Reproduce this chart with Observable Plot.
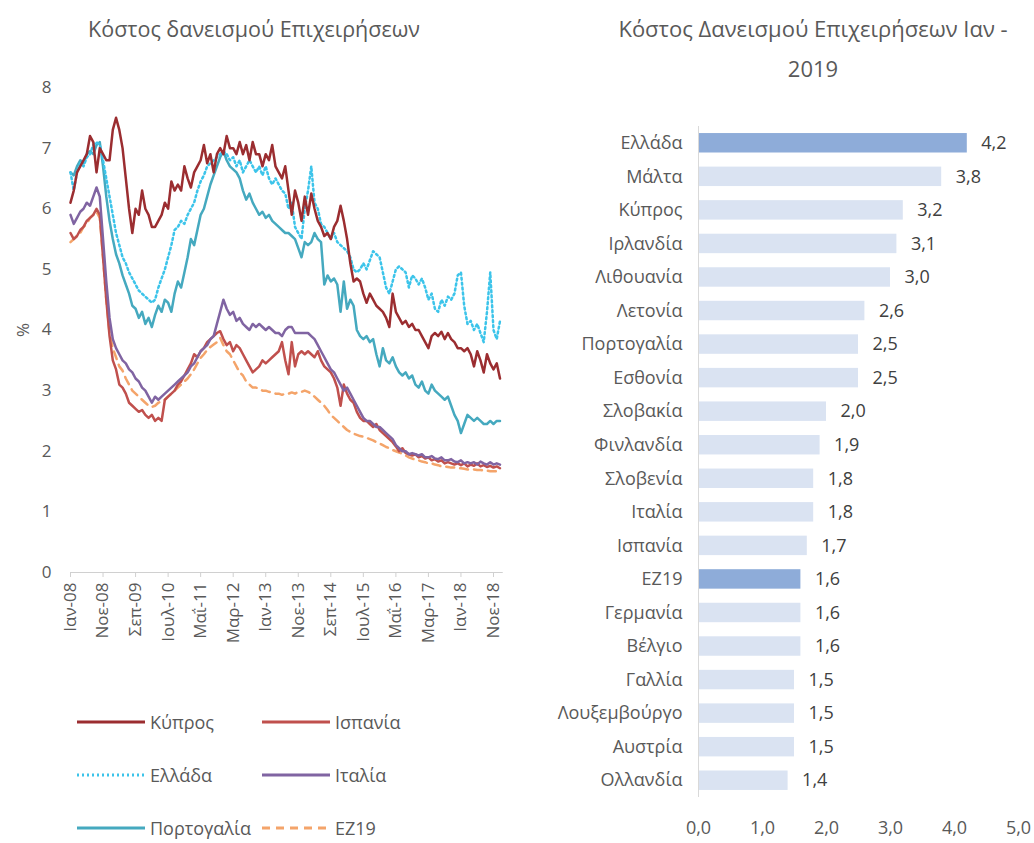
<!DOCTYPE html>
<html><head><meta charset="utf-8">
<script src="https://cdn.jsdelivr.net/npm/d3@7"></script>
<script src="https://cdn.jsdelivr.net/npm/@observablehq/plot@0.6"></script>
<style>
body{margin:0;background:#fff;font-family:"Open Sans",sans-serif;color:#595959;}
#wrap{position:relative;width:1034px;height:843px;overflow:hidden;background:#fff;}
.title{position:absolute;text-align:center;color:#595959;white-space:nowrap;}
#left,#right{position:absolute;top:0;}
#left{left:0}
#right{left:520px}
.leg{position:absolute;display:flex;align-items:center;font-size:18px;color:#595959;height:22px;}
.leg svg{margin-right:5px}
</style></head><body>
<div id="wrap">
<div class="title" style="left:0;width:508px;top:14px;font-size:21.5px">Κόστος δανεισμού Επιχειρήσεων</div>
<div class="title" style="left:563px;width:500px;top:8px;line-height:40px;font-size:22px">Κόστος Δανεισμού Επιχειρήσεων Ιαν -<br>2019</div>
<div id="left"></div>
<div id="right"></div>
<div id="legend"></div>
</div>
<script>
// ---- Left chart: monthly series Jan-08 .. Jan-19 (index 0..132)
const tickIdx = [0,10,20,30,40,50,60,70,80,90,100,110,120,130];
const tickLabels = ["Ιαν-08","Νοε-08","Σεπ-09","Ιουλ-10","Μαΐ-11","Μαρ-12","Ιαν-13","Νοε-13","Σεπ-14","Ιουλ-15","Μαΐ-16","Μαρ-17","Ιαν-18","Νοε-18"];

const cyprus = [6.1,6.3,6.6,6.7,6.8,6.9,7.2,7.1,6.6,7.0,6.9,6.8,6.8,7.3,7.5,7.3,7.0,6.5,6.0,5.6,6.0,5.9,6.3,6.0,5.9,5.7,5.7,5.8,5.9,6.1,6.0,6.45,6.3,6.4,6.3,6.7,6.5,6.35,6.6,6.7,6.8,7.05,6.75,6.9,6.6,6.9,7.0,6.9,7.2,7.0,7.0,6.9,7.1,6.9,7.05,6.8,7.1,6.9,6.9,6.7,6.9,6.8,7.05,6.7,6.6,6.5,6.7,6.3,5.9,6.3,6.1,5.8,6.2,5.9,6.25,6.0,5.8,5.7,5.55,5.6,5.5,5.7,5.8,6.05,5.8,5.5,5.1,4.8,4.85,4.8,4.6,4.45,4.6,4.5,4.4,4.35,4.3,4.2,4.05,4.6,4.3,4.2,4.1,4.15,4.05,4.1,4.0,4.0,3.9,3.8,3.7,3.9,3.95,3.9,3.97,3.85,3.95,3.85,3.8,3.7,3.7,3.65,3.7,3.6,3.4,3.65,3.5,3.3,3.6,3.45,3.35,3.45,3.2];
const greece = [6.6,6.3,6.6,6.75,6.7,6.85,6.9,7.05,7.1,7.05,6.8,6.5,6.2,5.9,5.6,5.4,5.2,5.1,4.95,4.85,4.75,4.65,4.6,4.55,4.5,4.45,4.5,4.7,4.85,5.0,5.2,5.4,5.65,5.7,5.8,5.75,5.9,6.0,6.1,6.3,6.45,6.55,6.7,6.75,6.8,6.85,6.9,6.95,6.9,6.8,6.85,6.7,6.8,6.6,6.7,6.8,6.7,6.6,6.7,6.55,6.7,6.5,6.4,6.5,6.4,6.3,6.25,6.0,6.1,5.7,5.6,5.5,6.0,6.3,6.7,6.1,6.0,5.75,5.7,5.6,5.5,5.6,5.45,5.4,5.35,5.3,5.2,5.0,4.95,5.0,5.1,5.0,5.15,5.3,5.25,5.2,4.95,4.7,4.6,4.8,5.0,5.05,5.0,4.95,4.7,4.9,4.85,4.75,4.85,4.7,4.5,4.6,4.35,4.3,4.5,4.4,4.55,4.5,4.6,4.9,4.95,4.4,4.1,4.15,4.0,4.1,3.95,3.8,4.3,4.95,4.0,3.85,4.15];
const portugal = [6.6,6.55,6.7,6.8,6.75,6.9,6.95,6.9,7.05,7.1,6.7,6.2,5.8,5.5,5.25,5.1,4.9,4.75,4.6,4.4,4.35,4.2,4.3,4.1,4.2,4.05,4.25,4.4,4.3,4.5,4.45,4.3,4.6,4.8,4.7,4.95,5.2,5.5,5.4,5.65,5.9,6.0,6.2,6.4,6.55,6.7,6.85,6.95,6.8,6.7,6.65,6.6,6.5,6.3,6.15,6.25,6.1,6.0,5.9,5.95,5.85,5.9,5.8,5.75,5.7,5.65,5.6,5.6,5.55,5.5,5.35,5.2,5.45,5.4,5.45,5.6,5.5,5.45,4.75,4.9,4.8,4.85,4.75,4.3,4.8,4.35,4.5,4.4,4.0,3.9,3.85,3.9,3.8,3.85,3.6,3.4,3.7,3.5,3.45,3.55,3.4,3.3,3.25,3.3,3.2,3.25,3.1,3.05,3.15,3.0,2.95,3.1,3.0,2.95,2.9,2.85,2.9,2.75,2.6,2.5,2.3,2.45,2.6,2.55,2.5,2.55,2.5,2.45,2.45,2.5,2.45,2.5,2.5];
const italy = [5.9,5.75,5.85,5.95,6.0,6.1,6.05,6.2,6.35,6.2,5.5,4.8,4.2,3.85,3.7,3.6,3.5,3.45,3.35,3.3,3.2,3.15,3.05,3.0,2.9,2.8,2.9,2.85,2.9,2.95,3.0,3.05,3.1,3.15,3.2,3.25,3.3,3.4,3.45,3.55,3.65,3.7,3.75,3.85,3.9,4.1,4.3,4.5,4.35,4.25,4.3,4.15,4.2,4.1,4.05,4.0,4.1,4.05,4.1,4.05,4.0,4.05,4.0,3.95,3.95,3.9,4.0,4.05,4.05,3.95,3.95,3.95,3.95,3.95,3.9,3.85,3.75,3.65,3.55,3.45,3.35,3.3,3.2,3.1,3.0,3.05,2.95,2.85,2.75,2.65,2.55,2.5,2.5,2.45,2.4,2.4,2.35,2.3,2.25,2.2,2.1,2.05,2.0,2.0,1.95,1.97,1.95,1.93,1.95,1.9,1.9,1.92,1.88,1.87,1.9,1.85,1.85,1.87,1.83,1.82,1.85,1.8,1.82,1.8,1.82,1.78,1.83,1.8,1.78,1.82,1.78,1.8,1.78];
const spain = [5.6,5.5,5.55,5.65,5.7,5.8,5.85,5.9,6.0,5.9,5.2,4.5,3.9,3.5,3.35,3.1,3.05,2.95,2.8,2.75,2.7,2.65,2.68,2.6,2.55,2.6,2.5,2.55,2.5,2.85,2.9,2.95,3.0,3.1,3.15,3.25,3.35,3.45,3.6,3.55,3.65,3.7,3.8,3.85,3.9,3.95,3.98,3.85,3.75,3.8,3.65,3.75,3.7,3.6,3.5,3.4,3.3,3.35,3.4,3.5,3.45,3.5,3.55,3.6,3.65,3.8,3.5,3.27,3.8,3.4,3.6,3.65,3.6,3.65,3.6,3.55,3.65,3.5,3.4,3.35,3.3,3.2,3.05,2.75,3.1,2.95,2.85,2.8,2.65,2.55,2.5,2.5,2.45,2.4,2.45,2.35,2.3,2.25,2.2,2.15,2.08,2.0,2.05,1.97,1.95,1.93,1.95,1.9,1.92,1.88,1.9,1.85,1.87,1.83,1.85,1.8,1.82,1.8,1.78,1.8,1.77,1.8,1.75,1.78,1.76,1.8,1.75,1.77,1.74,1.76,1.73,1.75,1.72];
const ez19 = [5.45,5.5,5.55,5.6,5.7,5.75,5.85,5.9,5.95,5.85,5.2,4.5,3.95,3.7,3.55,3.4,3.33,3.2,3.1,3.0,2.95,2.9,2.85,2.8,2.75,2.73,2.75,2.8,2.82,2.85,2.9,2.95,3.0,3.05,3.1,3.15,3.2,3.27,3.35,3.45,3.54,3.6,3.67,3.72,3.76,3.8,3.87,3.75,3.65,3.6,3.5,3.4,3.3,3.25,3.15,3.1,3.05,3.05,3.03,3.0,3.0,2.98,2.97,2.95,2.95,2.93,2.95,2.95,2.97,2.95,2.98,2.98,3.0,2.98,2.95,2.9,2.85,2.8,2.75,2.68,2.6,2.55,2.5,2.45,2.4,2.35,2.32,2.29,2.27,2.25,2.24,2.22,2.2,2.18,2.15,2.13,2.1,2.07,2.05,2.02,2.0,1.98,1.96,1.93,1.9,1.88,1.86,1.85,1.83,1.82,1.8,1.8,1.78,1.77,1.75,1.75,1.74,1.73,1.73,1.72,1.72,1.71,1.7,1.7,1.7,1.69,1.69,1.68,1.68,1.67,1.67,1.67,1.66];

const seriesNames = ["Κύπρος","Ισπανία","Ελλάδα","Ιταλία","Πορτογαλία","ΕΖ19"];
const seriesData = [cyprus, spain, greece, italy, portugal, ez19];
const seriesColors = ["#9b2d30","#c0504d","#3cc4ea","#8064a2","#45a9bf","#f4a46a"];
const seriesDash = [null,null,"2,3",null,null,"8,6"];
const drawOrder = [5,1,3,4,2,0];

// ---- Right chart
const countries = ["Ελλάδα","Μάλτα","Κύπρος","Ιρλανδία","Λιθουανία","Λετονία","Πορτογαλία","Εσθονία","Σλοβακία","Φινλανδία","Σλοβενία","Ιταλία","Ισπανία","ΕΖ19","Γερμανία","Βέλγιο","Γαλλία","Λουξεμβούργο","Αυστρία","Ολλανδία"];
const rates = [4.2,3.8,3.2,3.1,3.0,2.6,2.5,2.5,2.0,1.9,1.8,1.8,1.7,1.6,1.6,1.6,1.5,1.5,1.5,1.4];
const highlighted = ["Ελλάδα","ΕΖ19"];

const FONT = "'Open Sans', sans-serif";
const fmt = v => v.toFixed(1).replace(".", ",");

const lineMarks = drawOrder.map(k => {
  const rows = seriesData[k].map((v, i) => ({i, v}));
  return Plot.line(rows, {x: "i", y: "v", stroke: seriesColors[k], strokeWidth: 2.5,
    strokeDasharray: seriesDash[k] || undefined, strokeLinejoin: "round"});
});

const left = Plot.plot({
  width: 520, height: 700,
  marginLeft: 70, marginRight: 20.5, marginTop: 87, marginBottom: 128,
  style: {fontFamily: FONT, fontSize: "17px", color: "#595959", background: "transparent"},
  x: {domain: [0, 132]},
  y: {domain: [0, 8]},
  marks: [
    Plot.ruleY([0], {stroke: "#d0d0d0", x1: 0, x2: 133}),
    Plot.axisY({ticks: [0,1,2,3,4,5,6,7,8], tickSize: 0, tickPadding: 19, fill: "#595959",
      label: "%", labelAnchor: "center", labelArrow: "none", labelOffset: 54}),
    Plot.axisX({ticks: tickIdx, tickFormat: d => tickLabels[tickIdx.indexOf(d)], tickRotate: -90,
      tickSize: 5, tickPadding: 5, stroke: "#d0d0d0", fill: "#595959", label: null}),
    ...lineMarks
  ]
});
document.getElementById("left").appendChild(left);

const bars = countries.map((c, i) => ({c, v: rates[i]}));
const right = Plot.plot({
  width: 514, height: 843,
  marginLeft: 178, marginRight: 16, marginTop: 126, marginBottom: 46,
  style: {fontFamily: FONT, fontSize: "18px", color: "#595959", background: "transparent"},
  x: {domain: [0, 5]},
  y: {domain: countries, paddingInner: 0.42, paddingOuter: 0.21, round: false},
  color: {type: "identity"},
  marks: [
    Plot.barX(bars, {x: "v", y: "c", fill: d => highlighted.includes(d.c) ? "#8eacd9" : "#dae3f2"}),
    Plot.ruleX([0], {stroke: "#d9d9d9"}),
    Plot.text(bars, {x: "v", y: "c", text: d => fmt(d.v), textAnchor: "start", dx: 14, fill: "#404040", fontSize: 18}),
    Plot.axisY({tickSize: 0, tickPadding: 16, label: null, fill: "#595959"}),
    Plot.axisX({ticks: [0,1,2,3,4,5], tickFormat: fmt, tickSize: 0, tickPadding: 24, label: null, fill: "#595959"})
  ]
});
document.getElementById("right").appendChild(right);

// ---- Legend
const legendPos = [[77,711],[262,711],[77,764],[262,764],[77,817],[262,817]];
const legend = document.getElementById("legend");
seriesNames.forEach((name, k) => {
  const [lx, ly] = legendPos[k];
  const d = document.createElement("div");
  d.className = "leg";
  d.style.left = lx + "px"; d.style.top = ly + "px";
  const dash = seriesDash[k] ? ` stroke-dasharray="${seriesDash[k]}"` : "";
  d.innerHTML = `<svg width="68" height="6"><line x1="0" y1="3" x2="68" y2="3" stroke="${seriesColors[k]}" stroke-width="3"${dash}/></svg><span>${name}</span>`;
  legend.appendChild(d);
});
</script>
</body></html>
